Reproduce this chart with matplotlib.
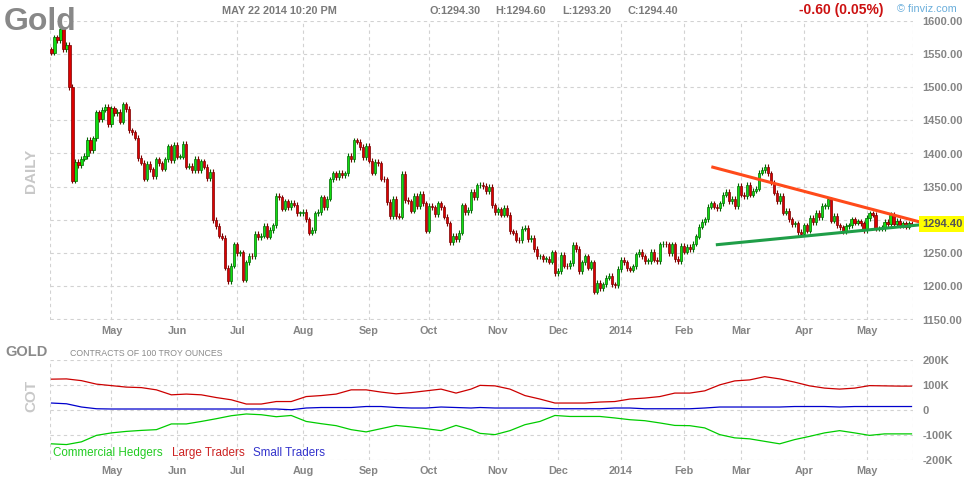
import numpy as np
import pandas as pd
import matplotlib
matplotlib.use('Agg')
import matplotlib.pyplot as plt

plt.rcParams['font.family'] = ['Liberation Sans', 'DejaVu Sans']

W, H = 964, 480

# trading days shown on the chart
start_day = '2013-04-03'
end_day = '2014-05-22'
holidays = ['2013-05-27', '2013-07-04', '2013-09-02', '2013-11-28', '2013-12-25',
            '2014-01-01', '2014-01-20', '2014-02-17', '2014-04-18']

# daily closes
first_open = 1557
closes = [
    1552, 1575, 1571, 1587, 1557, 1564, 1500, 1359, 1387, 1382,
    1392, 1396, 1421, 1405, 1423, 1462, 1452, 1466, 1470, 1444,
    1468, 1461, 1463, 1448, 1474, 1467, 1435, 1432, 1424, 1393,
    1386, 1362, 1384, 1376, 1366, 1391, 1385, 1377, 1391, 1411,
    1390, 1413, 1395, 1395, 1415, 1380, 1381, 1375, 1392, 1375,
    1388, 1380, 1363, 1372, 1300, 1291, 1276, 1273, 1228, 1208,
    1231, 1263, 1250, 1251, 1210, 1236, 1246, 1245, 1279, 1274,
    1276, 1291, 1275, 1285, 1292, 1336, 1334, 1317, 1328, 1319,
    1326, 1323, 1310, 1310, 1312, 1301, 1281, 1285, 1310, 1312,
    1334, 1319, 1332, 1361, 1370, 1364, 1371, 1367, 1370, 1396,
    1391, 1420, 1418, 1410, 1394, 1412, 1389, 1371, 1387, 1385,
    1362, 1361, 1327, 1306, 1332, 1306, 1305, 1369, 1330, 1328,
    1314, 1336, 1321, 1339, 1325, 1284, 1321, 1319, 1309, 1325,
    1319, 1305, 1295, 1266, 1276, 1271, 1281, 1322, 1312, 1315,
    1342, 1334, 1352, 1353, 1351, 1343, 1350, 1322, 1312, 1316,
    1308, 1318, 1308, 1283, 1281, 1270, 1269, 1287, 1288, 1271,
    1273, 1256, 1245, 1245, 1241, 1241, 1237, 1251, 1220, 1223,
    1247, 1231, 1230, 1235, 1262, 1256, 1223, 1236, 1245, 1228,
    1236, 1192, 1205, 1197, 1203, 1213, 1216, 1203, 1202, 1226,
    1240, 1236, 1227, 1225, 1230, 1248, 1252, 1245, 1238, 1238,
    1252, 1240, 1238, 1263, 1264, 1263, 1250, 1263, 1241, 1238,
    1261, 1252, 1259, 1256, 1264, 1275, 1290, 1297, 1301, 1320,
    1325, 1320, 1318, 1325, 1338, 1342, 1328, 1332, 1321, 1351,
    1338, 1336, 1353, 1338, 1344, 1347, 1371, 1375, 1380, 1370,
    1356, 1341, 1328, 1336, 1311, 1314, 1301, 1294, 1295, 1282,
    1279, 1292, 1284, 1303, 1297, 1311, 1304, 1321, 1321, 1331,
    1299, 1306, 1292, 1289, 1283, 1291, 1292, 1301, 1296, 1298,
    1295, 1285, 1303, 1310, 1308, 1287, 1287, 1288, 1297, 1294,
    1308, 1294, 1299, 1292, 1295, 1290, 1295, 1294.4,
]

# drawn trend lines (day index, price)
resist_days = [220.2, 289.7]
resist_prices = [1380, 1297]
support_days = [221.7, 289.7]
support_prices = [1262.5, 1292.5]

# COT positions, thousands of contracts
cot_days = list(range(0, 141, 5)) + list(range(143, 284, 5)) + [287]
cot_large = [123, 124, 117, 103, 97, 91, 89, 80, 60, 63,
             60, 49, 40, 23, 23, 33, 33, 53, 57, 63,
             80, 80, 71, 64, 69, 76, 83, 67, 83,
             98,
             96, 83, 57, 43, 27, 27, 27, 31, 33, 43,
             47, 53, 67, 67, 76, 100, 116, 120, 133, 124,
             111, 96, 87, 83, 87, 97, 96, 95,
             95]
cot_small = [27, 24, 11, 4, 3, 3, 3, 3, 3, 3,
             3, 3, 3, 3, 3, 3, 0, 7, 9, 9,
             9, 13, 13, 9, 7, 7, 11, 9, 7,
             9,
             7, 7, 7, 7, 4, 4, 4, 4, 7, 7,
             4, 4, 4, 4, 7, 11, 11, 11, 11, 11,
             13, 13, 13, 11, 13, 13, 13, 13,
             13]
cot_comm = [-137, -140, -129, -103, -93, -87, -83, -80, -57, -57,
            -47, -36, -24, -17, -20, -28, -23, -47, -56, -64,
            -80, -89, -76, -63, -69, -76, -84, -63, -80,
            -95,
            -100, -84, -60, -47, -23, -27, -27, -27, -33, -40,
            -44, -53, -63, -64, -73, -100, -113, -117, -127, -137,
            -120, -107, -93, -84, -93, -103, -97, -97,
            -97]

price_ticks = list(range(1150, 1601, 50))
cot_ticks = [-200, -100, 0, 100, 200]
cot_tick_labels = ['-200K', '-100K', '0', '100K', '200K']

# ---- dates / month ticks
dt = pd.bdate_range(start_day, end_day)
dt = dt[~dt.isin(pd.to_datetime(holidays))][:len(closes)]
months = dt.to_period('M')
month_pos = [i for i in range(1, len(dt)) if months[i] != months[i - 1]]
month_lbl = [dt[i].strftime('%Y') if dt[i].month == 1 else dt[i].strftime('%b') for i in month_pos]

days = np.arange(len(closes))
c = np.array(closes, dtype=float)
o = np.concatenate([[first_open], c[:-1]])
up = c >= o

GRID = '#d2d2d2'
LBL = '#858585'


def px(x, y):
    return x / W, 1 - y / H


fig = plt.figure(figsize=(W / 100, H / 100), dpi=100)
fig.patch.set_facecolor('white')

x0, x1 = 50, 913
ax = fig.add_axes([x0 / W, 1 - 319.5 / H, (x1 - x0) / W, (319.5 - 20.7) / H])
ax2 = fig.add_axes([x0 / W, 1 - 459.5 / H, (x1 - x0) / W, (459.5 - 360) / H])

for a in (ax, ax2):
    a.set_xlim(-0.5, len(closes) - 0.5)
    for s in a.spines.values():
        s.set_visible(False)
    a.set_xticks(month_pos)
    a.set_xticklabels(month_lbl)
    a.tick_params(axis='x', length=0, pad=5, labelsize=7.8, labelcolor=LBL)
    a.yaxis.tick_right()
    a.tick_params(axis='y', length=0, pad=7, labelsize=8, labelcolor=LBL)
    a.grid(True, color=GRID, linestyle=(0, (3, 3)), linewidth=0.8)
    a.set_axisbelow(True)
    for xe in a.get_xlim():
        a.axvline(xe, color=GRID, linestyle=(0, (3, 3)), linewidth=0.8, zorder=0)
    plt.setp(a.get_xticklabels(), fontweight='bold')

# ---- candles
ax.set_ylim(1150, 1600)
ax.set_yticks(price_ticks)
ax.set_yticklabels(['' if t == 1300 else f'{t:.2f}' for t in price_ticks])
plt.setp(ax.get_yticklabels(), fontweight='bold')

wick = 4
hi = np.maximum(o, c) + wick
lo = np.minimum(o, c) - wick
ax.vlines(days[up], lo[up], hi[up], color='#006400', linewidth=0.8, zorder=2)
ax.vlines(days[~up], lo[~up], hi[~up], color='#7a0000', linewidth=0.8, zorder=2)
body_bot = np.minimum(o, c)
body_h = np.maximum(np.abs(c - o), 1.2)
ax.bar(days[up], body_h[up], bottom=body_bot[up], width=0.72,
       color='#11dd11', edgecolor='#006a00', linewidth=0.5, zorder=3)
ax.bar(days[~up], body_h[~up], bottom=body_bot[~up], width=0.72,
       color='#dd0000', edgecolor='#7a0000', linewidth=0.5, zorder=3)

ax.plot(resist_days, resist_prices, color='#ff4a1a', linewidth=2.2, zorder=4,
        clip_on=False, solid_capstyle='butt')
ax.plot(support_days, support_prices, color='#1f9e48', linewidth=2.2, zorder=4,
        clip_on=False, solid_capstyle='butt')

ax.text(1 + 9 / (x1 - x0), closes[-1], f'{closes[-1]:.2f}',
        transform=ax.get_yaxis_transform(), ha='left', va='center',
        fontsize=8, fontweight='bold', color='#555555', zorder=6,
        bbox=dict(facecolor='#ffff00', edgecolor='none', pad=2.2))

# ---- COT
ax2.set_ylim(-200, 200)
ax2.set_yticks(cot_ticks)
ax2.set_yticklabels(cot_tick_labels)
plt.setp(ax2.get_yticklabels(), fontweight='bold')
ax2.plot(cot_days, cot_large, color='#cc0000', linewidth=0.9)
ax2.plot(cot_days, cot_small, color='#0000cc', linewidth=0.9)
ax2.plot(cot_days, cot_comm, color='#00cc00', linewidth=0.9)

# ---- texts
fig.text(*px(4, 29.5), 'Gold', fontsize=23, fontweight='bold', color='#888888', va='baseline')
hdr = dict(fontsize=7.8, fontweight='bold', color='#7a7a7a', va='baseline')
fig.text(*px(222, 14.3), 'MAY 22 2014 10:20 PM', **hdr)
fig.text(*px(430, 14.3), 'O:1294.30', **hdr)
fig.text(*px(495, 14.3), 'H:1294.60', **hdr)
fig.text(*px(562, 14.3), 'L:1293.20', **hdr)
fig.text(*px(627, 14.3), 'C:1294.40', **hdr)
fig.text(*px(799, 14.3), '-0.60 (0.05%)', fontsize=10, fontweight='bold',
         color='#cc1111', va='baseline')
fig.text(*px(897, 12), '\u00a9 finviz.com', fontsize=7.8, color='#6aaedb', va='baseline')

fig.text(*px(31, 171), 'DAILY', fontsize=11, fontweight='bold', color='#c8c8c8',
         rotation=90, ha='center', va='center')
fig.text(*px(31, 396), 'COT', fontsize=11, fontweight='bold', color='#c8c8c8',
         rotation=90, ha='center', va='center')
fig.text(*px(5, 356), 'GOLD', fontsize=10.5, fontweight='bold', color='#8a8a8a', va='baseline')
fig.text(*px(70, 356), 'CONTRACTS OF 100 TROY OUNCES', fontsize=6.3, color='#8a8a8a', va='baseline')

fig.text(*px(53, 456), 'Commercial Hedgers', fontsize=8.4, color='#22cc22', va='baseline')
fig.text(*px(172, 456), 'Large Traders', fontsize=8.4, color='#cc2222', va='baseline')
fig.text(*px(253, 456), 'Small Traders', fontsize=8.4, color='#3333cc', va='baseline')

fig.savefig('out.png', dpi=100)
